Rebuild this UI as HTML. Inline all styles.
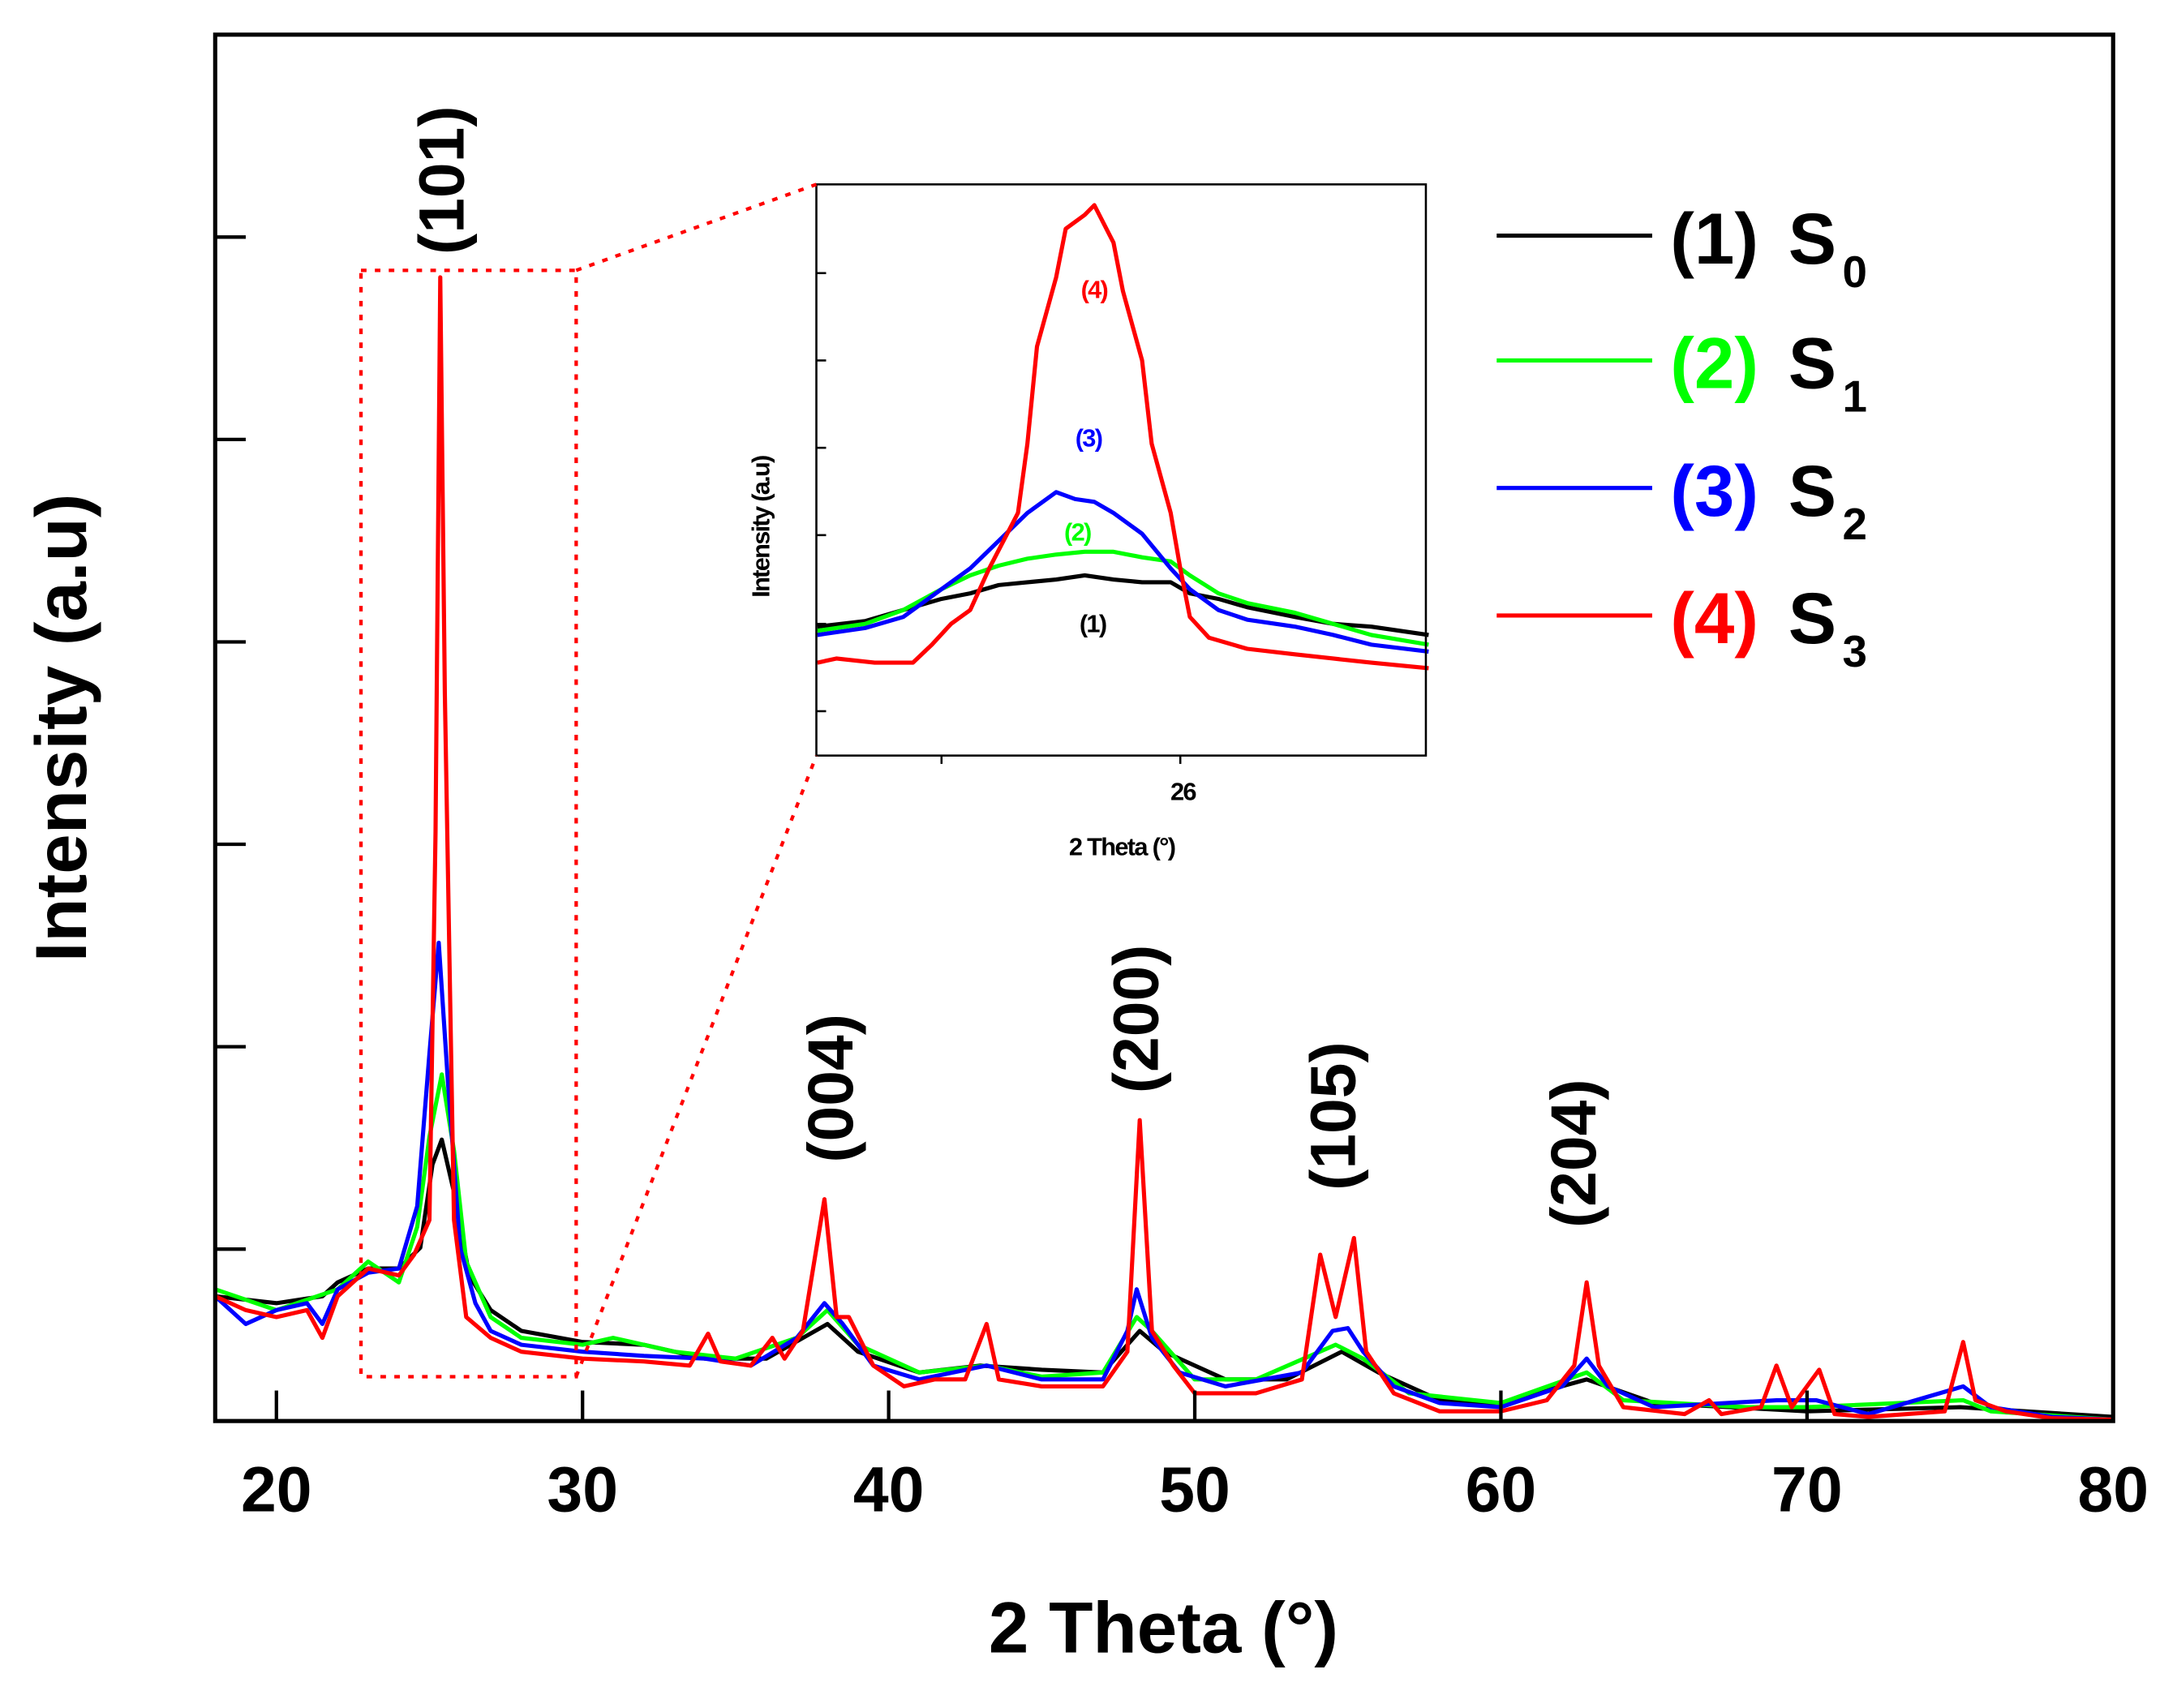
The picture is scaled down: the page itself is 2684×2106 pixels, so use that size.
<!DOCTYPE html>
<html><head><meta charset="utf-8"><style>
html,body{margin:0;padding:0;background:#fff}
svg{display:block}
text{font-family:"Liberation Sans",Arial,sans-serif;font-weight:bold}
</style></head><body>
<svg id="chart" width="2684" height="2106" viewBox="0 0 1568 1232" preserveAspectRatio="none" xmlns="http://www.w3.org/2000/svg">
<rect width="1568" height="1232" fill="#fff"/>
<g id="main-lines"></g>
<g id="inset"></g>
<rect x="155" y="25" width="1367" height="1000" fill="none" stroke="#000" stroke-width="3"/>
<g id="axes"></g>
<g fill="none" stroke="#f00" stroke-width="2.5" stroke-dasharray="4,6">
<rect x="260" y="195" width="155" height="798"/>
<line x1="415" y1="195" x2="588" y2="133"/>
<line x1="415" y1="993" x2="588" y2="545"/>
</g>
<text x="838" y="1192" font-size="52" text-anchor="middle">2 Theta (°)</text>
<text transform="translate(62,525) rotate(-90)" font-size="52" text-anchor="middle">Intensity (a.u)</text>
<g font-size="46" text-anchor="middle">
<text transform="translate(334,130) rotate(-90)">(101)</text>
<text transform="translate(614,785) rotate(-90)">(004)</text>
<text transform="translate(834,735) rotate(-90)">(200)</text>
<text transform="translate(976,805) rotate(-90)">(105)</text>
<text transform="translate(1149,832) rotate(-90)">(204)</text>
</g>
<g font-size="52">
<g><line x1="1078" y1="170" x2="1190" y2="170" stroke="#000" stroke-width="3"/><text x="1203" y="190" fill="#000">(1)</text><text x="1288" y="190">S</text><text x="1327" y="207" font-size="32">0</text></g>
<g><line x1="1078" y1="260" x2="1190" y2="260" stroke="#0f0" stroke-width="3"/><text x="1203" y="280" fill="#0f0">(2)</text><text x="1288" y="280">S</text><text x="1327" y="297" font-size="32">1</text></g>
<g><line x1="1078" y1="352" x2="1190" y2="352" stroke="#00f" stroke-width="3"/><text x="1203" y="372" fill="#00f">(3)</text><text x="1288" y="372">S</text><text x="1327" y="389" font-size="32">2</text></g>
<g><line x1="1078" y1="444" x2="1190" y2="444" stroke="#f00" stroke-width="3"/><text x="1203" y="464" fill="#f00">(4)</text><text x="1288" y="464">S</text><text x="1327" y="481" font-size="32">3</text></g>
</g>
</svg>
<script>
// ---- main chart data ----
const xTicks = [20, 30, 40, 50, 60, 70, 80];
const yTickVals = [124, 270, 416, 562, 708, 854];
const s0X = [18,20,21.5,22,23,24,24.7,25.1,25.4,25.8,26.3,27,28,30,32,34,36,38,39,41,43,45,47,48.2,49,51,53,54.8,56,58,60,62.8,65,70,75,80];
const s0Y = [90,85,90,100,110,110,125,185,203,165,105,80,65,57,55,45,45,70,50,35,40,37,35,65,50,30,30,50,35,15,13,30,13,7,10,3];
const s1X = [18,20,22,23,24,24.6,25,25.4,25.8,26.2,27,28,30,31,33,35,37,38,39,41,43.2,45,47,48.1,48.6,50,52,54.6,55.5,57,60,62.8,64,68,70,75.1,76,80];
const s1Y = [95,80,95,115,100,140,205,250,195,115,75,60,55,60,50,45,60,80,55,35,40,32,35,75,65,30,30,55,45,20,13,35,15,10,10,15,7,1];
const s2X = [18,19,20,21,21.5,22,23,24,24.6,25,25.3,25.6,26,26.5,27,28,30,32,34,35.5,37,37.9,38.5,39.5,41,43.2,45,47,47.8,48.1,48.6,49.5,51,53.5,54.5,55,55.5,56.5,58,60,62,62.8,63.5,65,69,70.3,72,75.1,76,78,80];
const s2Y = [90,70,80,85,70,95,107,110,155,265,345,245,125,85,65,55,50,47,45,40,60,85,70,40,30,40,30,30,65,95,60,35,25,35,65,67,50,25,13,10,25,45,25,10,15,15,5,25,10,3,1];
const s3X = [18,19,20,21,21.5,22,23,24,24.5,25,25.2,25.35,25.5,25.8,26.2,27,28,30,32,33.5,34.1,34.5,35.5,36.2,36.6,37.2,37.9,38.3,38.7,39.5,40.5,41.5,42.5,43.2,43.6,45,47,47.8,48.2,48.6,49.3,50,52,53.5,54.1,54.6,55.2,55.6,56.5,58,60,61.5,62.4,62.8,63.2,64,66,66.8,67.2,68.5,69,69.5,70.4,70.9,72,74.5,75.1,75.5,76.5,78,80];
const s3Y = [90,80,75,80,60,90,110,105,120,145,425,825,525,145,75,60,50,45,43,40,63,43,40,60,45,65,160,75,75,40,25,30,30,70,30,25,25,50,217,65,40,20,20,30,120,75,132,50,20,7,7,15,40,100,40,10,5,15,5,10,40,10,37,5,3,7,57,15,7,2,1];
// ---- inset data ----
const insetXTicks = [25.75, 26];
const insetYTickVals = [32, 95, 159, 222, 285, 348];
const i0X = [25.62,25.67,25.71,25.75,25.78,25.81,25.84,25.87,25.90,25.93,25.96,25.99,26.01,26.04,26.07,26.12,26.16,26.20,26.26];
const i0Y = [93,97,105,113,117,123,125,127,130,127,125,125,117,113,107,100,95,93,87];
const i1X = [25.62,25.67,25.71,25.75,25.78,25.81,25.84,25.87,25.90,25.93,25.96,25.99,26.01,26.04,26.07,26.12,26.16,26.20,26.26];
const i1Y = [90,95,105,120,130,137,142,145,147,147,143,140,130,117,110,103,95,87,80];
const i2X = [25.62,25.67,25.71,25.75,25.78,25.81,25.84,25.87,25.89,25.91,25.93,25.96,25.99,26.01,26.04,26.07,26.12,26.16,26.20,26.26];
const i2Y = [87,92,100,120,135,155,175,190,185,183,175,160,135,120,105,98,93,87,80,75];
const i3X = [25.62,25.64,25.68,25.72,25.74,25.76,25.78,25.80,25.83,25.84,25.85,25.87,25.88,25.90,25.91,25.93,25.94,25.96,25.97,25.99,26.00,26.01,26.03,26.07,26.12,26.16,26.20,26.26];
const i3Y = [67,70,67,67,80,95,105,135,175,225,295,345,380,390,397,370,335,285,225,175,135,100,85,77,73,70,67,63];

const NS = "http://www.w3.org/2000/svg";
function mx(v){ return 155 + (v - 18) * (1367 / 62); }
function my(v){ return 1025 - v; }
function ix(v){ return 588 + (v - 25.619) * 688; }
function iy(v){ return 545 - v; }

const main = document.getElementById('main-lines');
function addLine(parent, xs, ys, fx, fy, color, w, name){
  const p = document.createElementNS(NS, 'polyline');
  p.setAttribute('points', xs.map((x,i)=>fx(x).toFixed(1)+','+fy(ys[i]).toFixed(1)).join(' '));
  p.setAttribute('fill','none');
  p.setAttribute('stroke',color);
  p.setAttribute('stroke-width',w);
  p.setAttribute('stroke-linejoin','round');
  
  
  parent.appendChild(p);
}
addLine(main, s0X, s0Y, mx, my, '#000', 3, 'series-s0');
addLine(main, s1X, s1Y, mx, my, '#0f0', 3, 'series-s1');
addLine(main, s2X, s2Y, mx, my, '#00f', 3, 'series-s2');
addLine(main, s3X, s3Y, mx, my, '#f00', 3, 'series-s3');

const axes = document.getElementById('axes');
xTicks.forEach(t=>{
  const l = document.createElementNS(NS,'line');
  l.setAttribute('x1',mx(t)); l.setAttribute('x2',mx(t));
  l.setAttribute('y1',1025); l.setAttribute('y2',1003);
  l.setAttribute('stroke','#000'); l.setAttribute('stroke-width',2.5);
  
  
  axes.appendChild(l);
  const tx = document.createElementNS(NS,'text');
  tx.setAttribute('x',mx(t)); tx.setAttribute('y',1090);
  tx.setAttribute('font-size',46); tx.setAttribute('text-anchor','middle');
  tx.textContent = t;
  
  
  axes.appendChild(tx);
});
yTickVals.forEach(t=>{
  const l = document.createElementNS(NS,'line');
  l.setAttribute('x1',155); l.setAttribute('x2',177);
  l.setAttribute('y1',my(t)); l.setAttribute('y2',my(t));
  l.setAttribute('stroke','#000'); l.setAttribute('stroke-width',2.5);
  
  
  axes.appendChild(l);
});

// inset
const inset = document.getElementById('inset');
const bg = document.createElementNS(NS,'rect');
bg.setAttribute('x',588); bg.setAttribute('y',133); bg.setAttribute('width',439); bg.setAttribute('height',412);
bg.setAttribute('fill','#fff');


inset.appendChild(bg);
addLine(inset, i0X, i0Y, ix, iy, '#000', 3, 'inset-series-s0');
addLine(inset, i1X, i1Y, ix, iy, '#0f0', 3, 'inset-series-s1');
addLine(inset, i2X, i2Y, ix, iy, '#00f', 3, 'inset-series-s2');
addLine(inset, i3X, i3Y, ix, iy, '#f00', 3, 'inset-series-s3');
const fr = document.createElementNS(NS,'rect');
fr.setAttribute('x',588); fr.setAttribute('y',133); fr.setAttribute('width',439); fr.setAttribute('height',412);
fr.setAttribute('fill','none'); fr.setAttribute('stroke','#000'); fr.setAttribute('stroke-width',1.5);


inset.appendChild(fr);
insetXTicks.forEach(t=>{
  const l = document.createElementNS(NS,'line');
  l.setAttribute('x1',ix(t)); l.setAttribute('x2',ix(t));
  l.setAttribute('y1',545); l.setAttribute('y2',551);
  l.setAttribute('stroke','#000'); l.setAttribute('stroke-width',1.5);
  
  
  inset.appendChild(l);
});
yTickVals && insetYTickVals.forEach(t=>{
  const l = document.createElementNS(NS,'line');
  l.setAttribute('x1',588); l.setAttribute('x2',595);
  l.setAttribute('y1',iy(t)); l.setAttribute('y2',iy(t));
  l.setAttribute('stroke','#000'); l.setAttribute('stroke-width',1.5);
  
  
  inset.appendChild(l);
});
function addText(parent, x, y, s, size, color, name, rot){
  const t = document.createElementNS(NS,'text');
  if(rot){ t.setAttribute('transform','translate('+x+','+y+') rotate(-90)'); }
  else { t.setAttribute('x',x); t.setAttribute('y',y); }
  t.setAttribute('font-size',size); t.setAttribute('fill',color);
  t.setAttribute('text-anchor','middle'); t.setAttribute('letter-spacing','-1');
  t.textContent = s;
  
  
  parent.appendChild(t);
}
addText(inset, 852, 577, '26', 18, '#000', 'inset-x-tick-label');
addText(inset, 808, 617, '2 Theta (°)', 18, '#000', 'inset-x-axis-title');
addText(inset, 554, 380, 'Intensity (a.u)', 18, '#000', 'inset-y-axis-title', true);
addText(inset, 788, 215, '(4)', 18, '#f00', 'inset-label-4');
addText(inset, 784, 322, '(3)', 18, '#00f', 'inset-label-3');
addText(inset, 776, 390, '(2)', 18, '#0f0', 'inset-label-2');
addText(inset, 787, 456, '(1)', 18, '#000', 'inset-label-1');
</script>
</body></html>
